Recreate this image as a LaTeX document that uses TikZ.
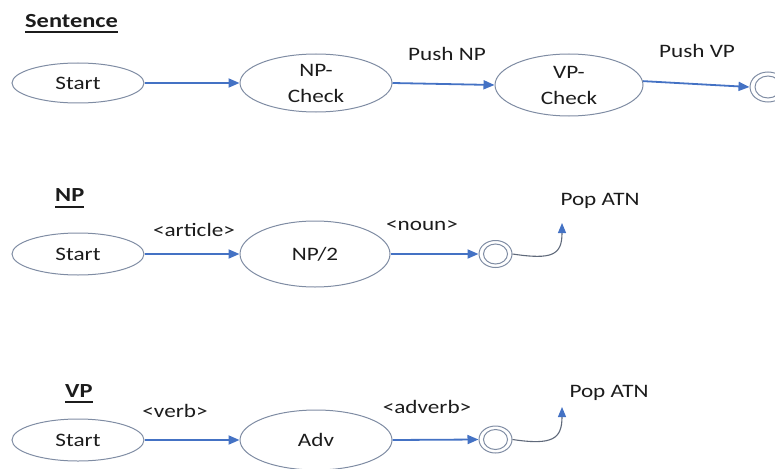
\documentclass[tikz,border=0pt]{standalone}
\usepackage{fontspec}
\setmainfont{Carlito}
\usetikzlibrary{shapes.geometric,arrows.meta}
\definecolor{edgeblue}{HTML}{4472C4}
\definecolor{rim}{HTML}{7F8CA3}
\definecolor{ink}{HTML}{1C1C1C}
% slightly widened lettering
\newcommand\sx[1]{\scalebox{1.22}[1]{#1}}

\begin{document}
\begin{tikzpicture}[x=1pt,y=-1pt,
  every node/.style={text=ink, font=\fontsize{19}{26}\selectfont},
  state/.style={ellipse, draw=rim, line width=1pt, inner sep=0pt, align=center},
  accept/.style={ellipse, draw=rim, line width=1pt, inner sep=0pt},
  trans/.style={draw=edgeblue, line width=1.8pt, -{Triangle[length=11pt,width=9pt]}},
  pop/.style={draw=rim!75!black, line width=1.1pt, -{Triangle[length=10pt,width=8pt,color=edgeblue]}},
  heading/.style={inner sep=0pt, anchor=base west, font=\bfseries\fontsize{20}{24}\selectfont},
  lbl/.style={inner sep=0pt, anchor=base},
  ul/.style={draw=ink, line width=1.6pt},
]
\path[use as bounding box] (0,0) rectangle (775,468);
\clip (0,0) rectangle (775,468);

% ---------- Sentence network ----------
\node[heading] (h1) at (25,28) {\sx{Sentence}};
\draw[ul] ([yshift=-4pt]h1.base west) -- ([yshift=-4pt]h1.base east);

\node[state, minimum width=132pt, minimum height=40pt] (s1) at (78,83) {\sx{Start}};
\node[state, minimum width=152pt, minimum height=58pt] (npc) at (316,83) {\sx{NP-}\\\sx{Check}};
\node[state, minimum width=148pt, minimum height=62pt] (vpc) at (569,85) {\sx{VP-}\\\sx{Check}};
\node[accept, minimum width=36pt, minimum height=30pt] (f1) at (768,87) {};
\node[accept, minimum width=26pt, minimum height=22pt] (f1in) at (768,87) {};

\draw[trans] (s1) -- (npc);
\draw[trans] (npc.east) -- (vpc.west);
\draw[trans] (vpc.3) -- (f1.west);
\node[lbl] (l1) at (447,61) {\sx{Push NP}};
\node[lbl] (l2) at (697,58) {\sx{Push VP}};

% ---------- NP network ----------
\node[heading] (h2) at (55,201) {\sx{NP}};
\draw[ul] ([yshift=-6pt]h2.base west) -- ([yshift=-6pt]h2.base east);

\node[state, minimum width=132pt, minimum height=42pt] (s2) at (78,254) {\sx{Start}};
\node[state, minimum width=150pt, minimum height=66pt] (np2) at (315,254) {\sx{NP/2}};
\node[accept, minimum width=33pt, minimum height=27pt] (f2) at (495.5,254) {};
\node[accept, minimum width=24pt, minimum height=20pt] (f2in) at (495.5,254) {};
\coordinate (p2) at (562,223);

\draw[trans] (s2) -- (np2);
\draw[trans] (np2) -- (f2);
\draw[pop] (f2.east) .. controls +(40,6) and +(0,32) .. (p2);
\node[lbl] (l3) at (194,236) {\sx{<article>}};
\node[lbl] (l4) at (422,230) {\sx{<noun>}};
\node[lbl] (l5) at (600,205) {\sx{Pop ATN}};

% ---------- VP network ----------
\node[heading] (h3) at (65,397) {\sx{VP}};
\draw[ul] ([yshift=-5pt]h3.base west) -- ([yshift=-5pt]h3.base east);

\node[state, minimum width=132pt, minimum height=42pt] (s3) at (78,440) {\sx{Start}};
\node[state, minimum width=152pt, minimum height=60pt] (adv) at (316,440) {\sx{Adv}};
\node[accept, minimum width=33pt, minimum height=27pt] (f3) at (495.5,439.5) {};
\node[accept, minimum width=24pt, minimum height=20pt] (f3in) at (495.5,439.5) {};
\coordinate (p3) at (562,407);

\draw[trans] (s3) -- (adv);
\draw[trans] (adv.east) -- (f3.west);
\draw[pop] (f3.east) .. controls +(40,6) and +(0,32) .. (p3);
\node[lbl] (l6) at (175,417) {\sx{<verb>}};
\node[lbl] (l7) at (427,413) {\sx{<adverb>}};
\node[lbl] (l8) at (609,397) {\sx{Pop ATN}};
\end{tikzpicture}
\end{document}
